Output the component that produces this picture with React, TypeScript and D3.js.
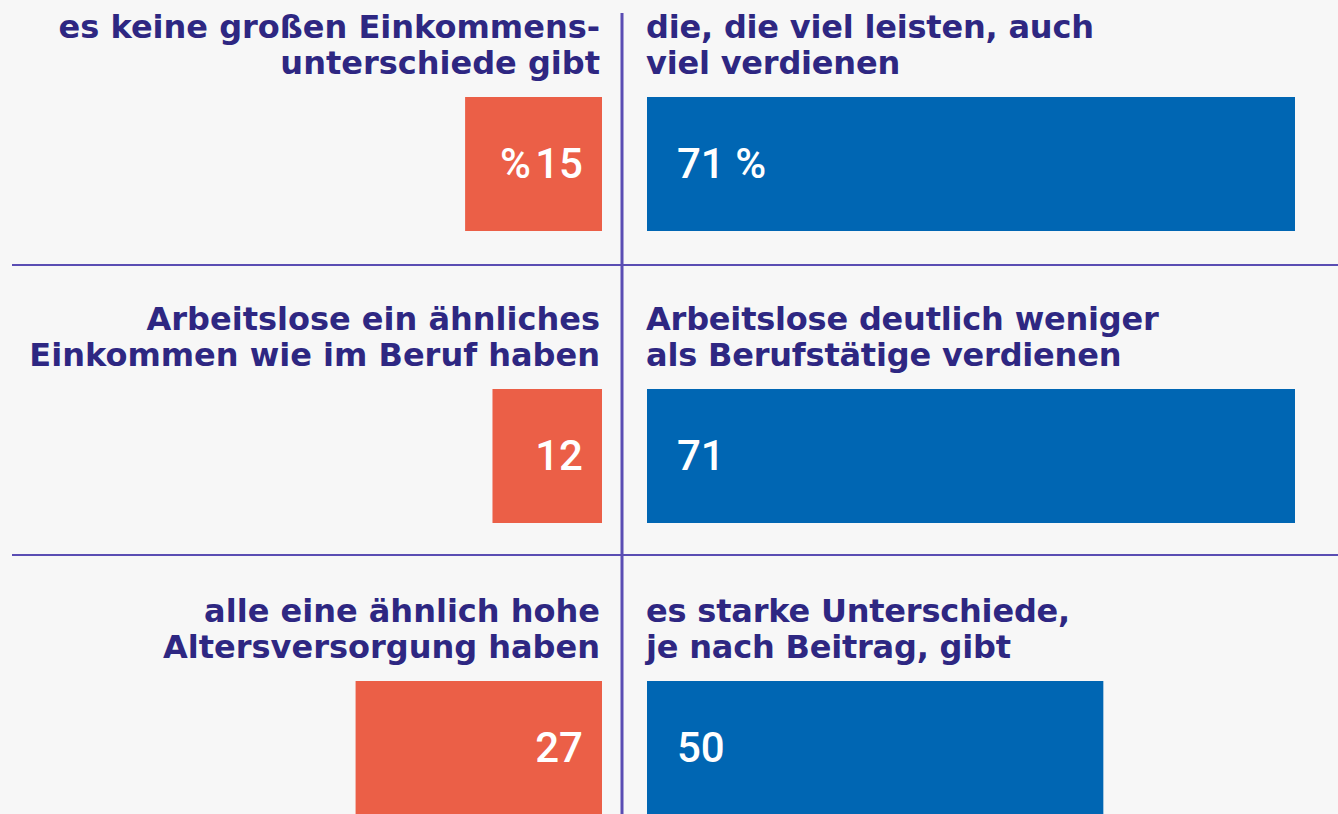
import React from "react";
import * as d3 from "d3";

const rows = ["einkommen", "arbeitslos", "alter"];
const leftLabels = [
  ["es keine großen Einkommens-", "unterschiede gibt"],
  ["Arbeitslose ein ähnliches", "Einkommen wie im Beruf haben"],
  ["alle eine ähnlich hohe", "Altersversorgung haben"],
];
const rightLabels = [
  ["die, die viel leisten, auch", "viel verdienen"],
  ["Arbeitslose deutlich weniger", "als Berufstätige verdienen"],
  ["es starke Unterschiede,", "je nach Beitrag, gibt"],
];
const leftValues = [15, 12, 27];
const rightValues = [71, 71, 50];
const leftValueLabels = ["%\u200A15", "12", "27"];
const rightValueLabels = ["71 %", "71", "50"];

const W = 1338;
const H = 814;
const BG = "#f7f7f7";
const TEXT = "#2e2782";
const RULE = "#5a4db3";
const ORANGE = "#eb5f47";
const BLUE = "#0066b3";
const FONT = "'DejaVu Sans', sans-serif";
const NUMFONT = "Roboto, sans-serif";

export default function App() {
  const centerX = 622;
  const leftEdge = 602;
  const rightEdge = 647;
  const x = d3.scaleLinear().domain([0, 71]).range([0, 648]);
  const y = d3.scaleBand<string>().domain(rows).range([0, 292 * 3]).paddingInner(0);
  const barTop = 97;
  const barH = 134;
  const sepY = [265, 555];

  return (
    <div style={{ position: "fixed", left: 0, top: 0, width: W, height: H, background: BG }}>
      <svg width={W} height={H} style={{ display: "block" }}>
        <rect width={W} height={H} fill={BG} />
        {sepY.map((sy, i) => (
          <line key={i} x1={12} x2={W} y1={sy} y2={sy} stroke={RULE} strokeWidth={2} />
        ))}
        <line x1={centerX} x2={centerX} y1={13} y2={H} stroke={RULE} strokeWidth={3} />
        {rows.map((r, i) => {
          const top = y(r)!;
          const lw = x(leftValues[i]);
          const rw = x(rightValues[i]);
          return (
            <g key={r}>
              {leftLabels[i].map((t, j) => (
                <text key={j} x={600} y={top + 38 + j * 36} textAnchor="end" fill={TEXT}
                  fontFamily={FONT} fontWeight={700} fontSize={32}>{t}</text>
              ))}
              {rightLabels[i].map((t, j) => (
                <text key={j} x={646} y={top + 38 + j * 36} textAnchor="start" fill={TEXT}
                  fontFamily={FONT} fontWeight={700} fontSize={32} letterSpacing={-0.2}>{t}</text>
              ))}
              <rect x={leftEdge - lw} y={top + barTop} width={lw} height={barH} fill={ORANGE} />
              <rect x={rightEdge} y={top + barTop} width={rw} height={barH} fill={BLUE} />
              <text x={583} y={top + barTop + 81} textAnchor="end" fill="#fff"
                fontFamily={NUMFONT} fontWeight={500} fontSize={42}>{leftValueLabels[i]}</text>
              <text x={677} y={top + barTop + 81} textAnchor="start" fill="#fff"
                fontFamily={NUMFONT} fontWeight={500} fontSize={42}>{rightValueLabels[i]}</text>
            </g>
          );
        })}
      </svg>
    </div>
  );
}
